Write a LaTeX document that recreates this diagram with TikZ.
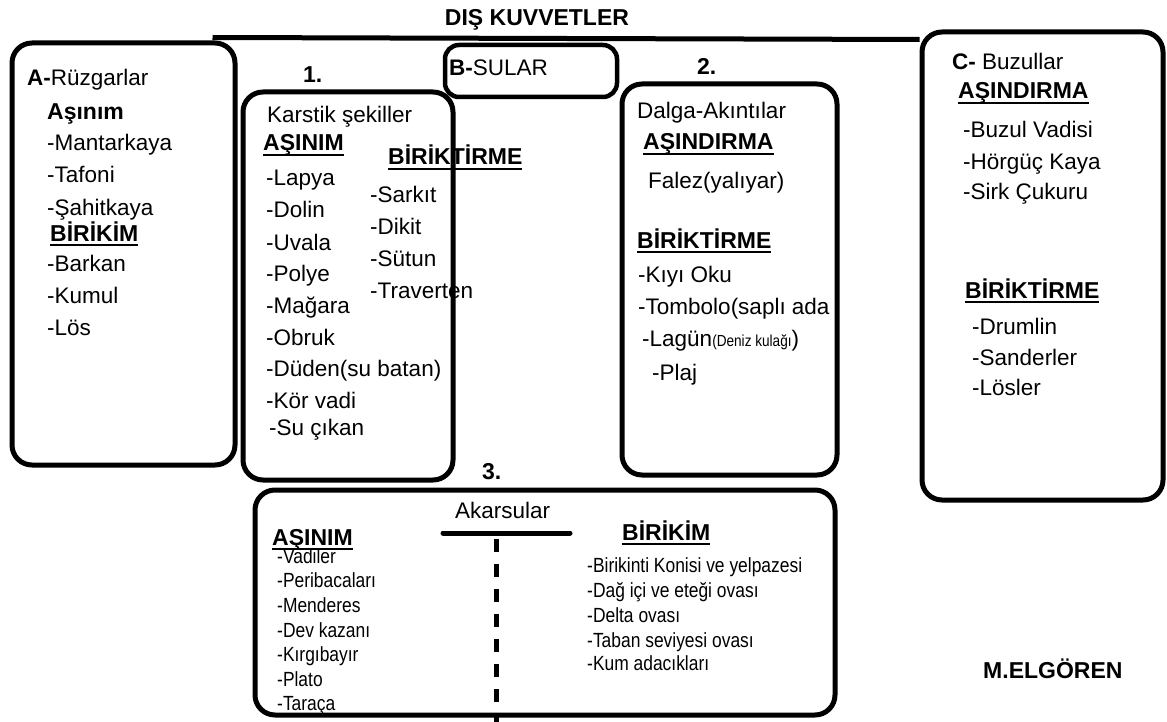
\documentclass[tikz,border=0pt]{standalone}
\usepackage{fontspec}
\setmainfont{Liberation Sans}
\newfontfamily\narrowfont[FakeStretch=0.85]{Liberation Sans}
\newcommand\ulin[1]{\leavevmode\setbox0=\hbox{#1}\rlap{\rule[-5pt]{\wd0}{1.7pt}}\box0}
\begin{document}
\begin{tikzpicture}[x=1pt,y=-1pt,
  box/.style={draw, line width=5pt, rounded corners=20pt, inner sep=0pt},
  txt/.style={anchor=base west, inner sep=0pt, font=\fontsize{22.5}{26}\selectfont},
  hd/.style={anchor=base west, inner sep=0pt, font=\fontsize{23}{27}\selectfont\bfseries},
  nar/.style={anchor=base west, inner sep=0pt, font=\narrowfont\fontsize{20.5}{24}\selectfont},
  smallnar/.style={anchor=base west, inner sep=0pt, font=\narrowfont\fontsize{16}{20}\selectfont},
  thickline/.style={line width=5pt, line cap=round},
  dashline/.style={line width=5pt, dash pattern=on 13pt off 12pt}]
\useasboundingbox (0,0) rectangle (1167,722);
\fill[white] (0,0) rectangle (1167,722);

% boxes
\node[box, minimum width=223pt, minimum height=422pt] (A) at (123.5,254) {};
\node[box, minimum width=210pt, minimum height=388pt] (K) at (348,286) {};
\node[box, line width=4.5pt, rounded corners=14pt, minimum width=172pt, minimum height=52pt] (B) at (531,71) {};
\node[box, minimum width=215pt, minimum height=391pt] (D) at (729.5,279.5) {};
\node[box, minimum width=241pt, minimum height=468pt] (C) at (1042.5,266) {};
\node[box, minimum width=580pt, minimum height=225pt] (R) at (545,602.5) {};

% top connecting line
\draw[line width=5pt] ([xshift=-25pt,yshift=3pt]A.north east) -- ([yshift=-10pt]C.north west);

% title
\node[anchor=base, inner sep=0pt, font=\fontsize{23}{27}\selectfont\bfseries] (title) at (537,26) {DIŞ KUVVETLER};
\node[anchor=base west, inner sep=0pt, font=\fontsize{22.5}{26}\selectfont] (bs) at (449,76) {\textbf{B-}SULAR};

% A box
\node[txt] (a0) at (27,86) {\textbf{A-}Rüzgarlar};
\node[hd] (a1) at (47,120) {Aşınım};
\node[txt] (a2) at (47,151) {-Mantarkaya};
\node[txt] (a3) at (47,183) {-Tafoni};
\node[txt] (a4) at (47,215) {-Şahitkaya};
\node[hd] (a5) at (50,241) {\ulin{BİRİKİM}};
\node[txt] (a6) at (47,271) {-Barkan};
\node[txt] (a7) at (47,303) {-Kumul};
\node[txt] (a8) at (47,335) {-Lös};

% box 1
\node[hd] (n1) at (303,83) {1.};
\node[txt] (k0) at (267,123) {Karstik şekiller};
\node[hd] (k1) at (263,151) {\ulin{AŞINIM}};
\node[hd] (k2) at (388,165) {\ulin{BİRİKTİRME}};
\node[txt] (k3) at (266,186) {-Lapya};
\node[txt] (k4) at (266,218) {-Dolin};
\node[txt] (k5) at (266,250) {-Uvala};
\node[txt] (k6) at (266,281) {-Polye};
\node[txt] (k7) at (266,313) {-Mağara};
\node[txt] (k8) at (266,345) {-Obruk};
\node[txt] (k9) at (266,376) {-Düden(su batan)};
\node[txt] (k10) at (266,408) {-Kör vadi};
\node[txt] (k11) at (269,435) {-Su çıkan};
\node[txt] (k12) at (370,203) {-Sarkıt};
\node[txt] (k13) at (370,235) {-Dikit};
\node[txt] (k14) at (370,266) {-Sütun};
\node[txt] (k15) at (370,298) {-Traverten};

% box 2
\node[hd] (n2) at (697,75) {2.};
\node[txt] (d0) at (637,119) {Dalga-Akıntılar};
\node[hd] (d1) at (643,150) {\ulin{AŞINDIRMA}};
\node[txt] (d2) at (648,189) {Falez(yalıyar)};
\node[hd] (d3) at (637,248) {\ulin{BİRİKTİRME}};
\node[txt] (d4) at (638,282) {-Kıyı Oku};
\node[txt] (d5) at (638,314) {-Tombolo(saplı ada};
\node[txt] (d6) at (642,346) {-Lagün{\narrowfont\fontsize{16}{20}\selectfont(Deniz kulağı}{)}};
\node[txt] (d7) at (652,380) {-Plaj};

% box C
\node[txt] (c0) at (952,70) {\textbf{C-} Buzullar};
\node[hd] (c1) at (958,99) {\ulin{AŞINDIRMA}};
\node[txt] (c2) at (963,138) {-Buzul Vadisi};
\node[txt] (c3) at (963,170) {-Hörgüç Kaya};
\node[txt] (c4) at (963,200) {-Sirk Çukuru};
\node[hd] (c5) at (965,298) {\ulin{BİRİKTİRME}};
\node[txt] (c6) at (972,334) {-Drumlin};
\node[txt] (c7) at (972,365) {-Sanderler};
\node[txt] (c8) at (972,395) {-Lösler};

% box 3
\node[hd] (n3) at (482,479) {3.};
\node[txt] (r0) at (455,518) {Akarsular};
\coordinate (hl1) at (443,533);
\coordinate (hl2) at (570,533);
\draw[thickline] (hl1) -- (hl2);
\coordinate (vl1) at (496,539);
\coordinate (vl2) at (496,722);
\draw[dashline] (vl1) -- (vl2);
\node[hd] (r1) at (272,545) {\ulin{AŞINIM}};
\node[nar] (r2) at (277,563) {-Vadiler};
\node[nar] (r3) at (277,587) {-Peribacaları};
\node[nar] (r4) at (277,612) {-Menderes};
\node[nar] (r5) at (277,637) {-Dev kazanı};
\node[nar] (r6) at (277,661) {-Kırgıbayır};
\node[nar] (r7) at (277,686) {-Plato};
\node[nar] (r8) at (277,710) {-Taraça};
\node[hd] (r9) at (622,540) {\ulin{BİRİKİM}};
\node[nar] (r10) at (587,572) {-Birikinti Konisi ve yelpazesi};
\node[nar] (r11) at (587,597) {-Dağ içi ve eteği ovası};
\node[nar] (r12) at (587,622) {-Delta ovası};
\node[nar] (r13) at (587,647) {-Taban seviyesi ovası};
\node[nar] (r14) at (587,670) {-Kum adacıkları};

% signature
\node[hd] (sig) at (983,678) {M.ELGÖREN};
\end{tikzpicture}
\end{document}
